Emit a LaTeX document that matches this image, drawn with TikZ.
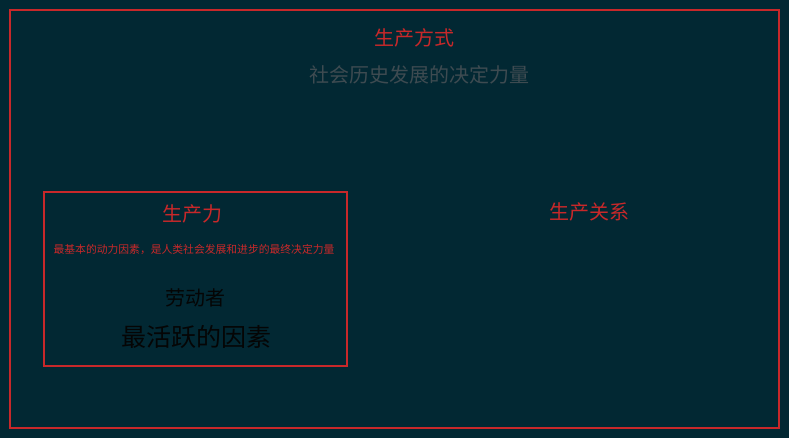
\documentclass[tikz,border=0pt]{standalone}
\usepackage{fontspec}
\newfontfamily\cjk{Noto Sans CJK SC}
\definecolor{bgc}{HTML}{022833}
\definecolor{redc}{HTML}{C8282A}
\definecolor{grayc}{HTML}{3E4B51}
\definecolor{blk}{HTML}{050505}
\tikzset{
  frame/.style={draw=redc, line width=1.2pt},
  txt/.style={inner sep=0pt, anchor=center, font=\cjk},
}
\begin{document}
\begin{tikzpicture}[x=1pt,y=-1pt]
\fill[bgc] (0,0) rectangle (789,438);
\useasboundingbox (0,0) rectangle (789,438);
\draw[frame] (10,10) rectangle (779,428);
\draw[frame] (44,192) rectangle (347,366);
\node[txt, text=redc, font=\cjk\fontsize{20pt}{24pt}\selectfont] (t1) at (414,38) {生产方式};
\node[txt, text=grayc, font=\cjk\fontsize{20pt}{24pt}\selectfont] (t2) at (419,75) {社会历史发展的决定力量};
\node[txt, text=redc, font=\cjk\fontsize{20pt}{24pt}\selectfont] (t3) at (192,214) {生产力};
\node[txt, text=redc, font=\cjk\fontsize{10.8pt}{13pt}\selectfont] (t4) at (194,250) {最基本的动力因素，是人类社会发展和进步的最终决定力量};
\node[txt, text=blk, font=\cjk\fontsize{20pt}{24pt}\selectfont] (t5) at (195,298) {劳动者};
\node[txt, text=blk, font=\cjk\fontsize{25pt}{30pt}\selectfont] (t6) at (196,337) {最活跃的因素};
\node[txt, text=redc, font=\cjk\fontsize{20pt}{24pt}\selectfont] (t7) at (589,212) {生产关系};
\end{tikzpicture}
\end{document}
